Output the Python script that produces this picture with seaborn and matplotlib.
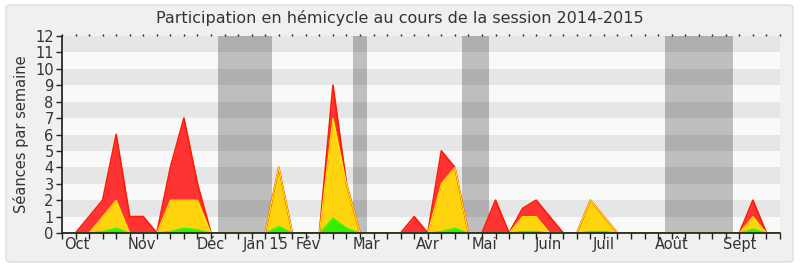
import numpy as np
import pandas as pd
import matplotlib
matplotlib.use("Agg")
import matplotlib.pyplot as plt
from matplotlib.patches import FancyBboxPatch
import seaborn as sns

# ---- data (weekly values, week index 0..53) ----
weeks = list(range(54))
red_total = [0, 0, 1, 2, 6, 1, 1, 0, 4, 7, 3, 0, 0, 0, 0, 0, 4, 0, 0, 0,
             9, 3, 0, 0, 0, 0, 1, 0, 5, 4, 0, 0, 2, 0, 1.5, 2, 1, 0, 0, 2,
             1, 0, 0, 0, 0, 0, 0, 0, 0, 0, 0, 2, 0, 0]
yellow_total = [0, 0, 0, 1, 2, 0, 0, 0, 2, 2, 2, 0, 0, 0, 0, 0, 4, 0, 0, 0,
                7, 3, 0, 0, 0, 0, 0, 0, 3, 4, 0, 0, 0, 0, 1, 1, 0, 0, 0, 2,
                1, 0, 0, 0, 0, 0, 0, 0, 0, 0, 0, 1, 0, 0]
green_total = [0, 0, 0, 0.1, 0.3, 0, 0, 0, 0.1, 0.3, 0.2, 0, 0, 0, 0, 0, 0.4, 0, 0, 0,
               0.9, 0.3, 0, 0, 0, 0, 0, 0, 0.1, 0.3, 0, 0, 0, 0, 0.1, 0.1, 0, 0, 0, 0.1,
               0.1, 0, 0, 0, 0, 0, 0, 0, 0, 0, 0, 0.25, 0, 0]
vacations = [(11.5, 15.5), (21.5, 22.5), (29.5, 31.5), (44.5, 49.5)]
month_labels = ["Oct", "Nov", "Déc", "Jan 15", "Fév", "Mar", "Avr", "Mai",
                "Juin", "Juil", "Août", "Sept"]
month_pos = [1.1, 5.9, 10.95, 15.0, 18.2, 22.5, 27.0, 31.2, 35.9, 40.0, 45.0, 50.0]

df = pd.DataFrame({"week": weeks, "red": red_total,
                   "yellow": yellow_total, "green": green_total})

sns.set_theme(style="white")
plt.rcParams["font.family"] = ["DejaVu Sans"]

fig = plt.figure(figsize=(8, 2.67), dpi=100)
fig.patch.set_facecolor("white")
bg = FancyBboxPatch((6 / 800, 5 / 267), 787 / 800, 257 / 267,
                    boxstyle="round,pad=0,rounding_size=0.008",
                    transform=fig.transFigure, facecolor="#f0f0f0",
                    edgecolor="#dedede", linewidth=1.0, zorder=-10)
fig.patches.append(bg)

ax = fig.add_axes([62 / 800, 1 - 233 / 267, 718 / 800, 197 / 267])
ax.set_zorder(1)
ax.set_facecolor("#f9f9f9")
for lo in range(1, 12, 2):
    ax.axhspan(lo, lo + 1, color="#e6e6e6", lw=0, zorder=0)
for a, b in vacations:
    ax.axvspan(a, b, color="black", alpha=0.235, lw=0, zorder=1)

x = df["week"].values
ax.fill_between(x, 0, df["red"], color="#ff3333", lw=0, zorder=2)
ax.fill_between(x, 0, df["yellow"], color="#ffd40f", lw=0, zorder=3)
ax.fill_between(x, 0, df["green"], color="#33ee00", lw=0, zorder=4)
sns.lineplot(data=df, x="week", y="red", ax=ax, color="#ff1a00", lw=1.2, zorder=5)
sns.lineplot(data=df, x="week", y="yellow", ax=ax, color="#ffee00", lw=0.8, zorder=6)
sns.lineplot(data=df, x="week", y="green", ax=ax, color="#22ff00", lw=0.8, zorder=7)

ax.set_xlim(0, 53)
ax.set_ylim(0, 12)
ax.set_yticks(range(13))
ax.set_yticklabels([str(v) for v in range(13)], fontsize=10.5, color="#333333")
ax.xaxis.remove_overlapping_locs = False
ax.set_xticks(range(54))
ax.set_xticklabels([])
ax.set_xticks(month_pos, minor=True)
ax.set_xticklabels(month_labels, minor=True, fontsize=10.5, color="#333333")
ax.tick_params(axis="x", which="major", direction="out", length=4, width=1,
               color="#222222", bottom=True, top=True)
ax.tick_params(axis="x", which="minor", length=0, pad=3)
ax.tick_params(axis="y", direction="out", length=4, width=1, color="#222222",
               left=True, pad=2)
ax.set_xlabel("")
ax.set_ylabel("Séances par semaine", fontsize=10.5, color="#333333", labelpad=4)
for s in ["top", "right"]:
    ax.spines[s].set_visible(False)
ax.spines["left"].set_color("#222222")
ax.spines["bottom"].set_color("#222222")
ax.spines["left"].set_zorder(10)
ax.spines["bottom"].set_zorder(10)
for t in ax.xaxis.get_major_ticks():
    t.tick2line.set_markersize(1.5)

fig.text(0.5, 1 - 18 / 267, "Participation en hémicycle au cours de la session 2014-2015",
         ha="center", va="center", fontsize=11.5, color="#333333")

fig.savefig("out.png", dpi=100, facecolor=fig.get_facecolor())
